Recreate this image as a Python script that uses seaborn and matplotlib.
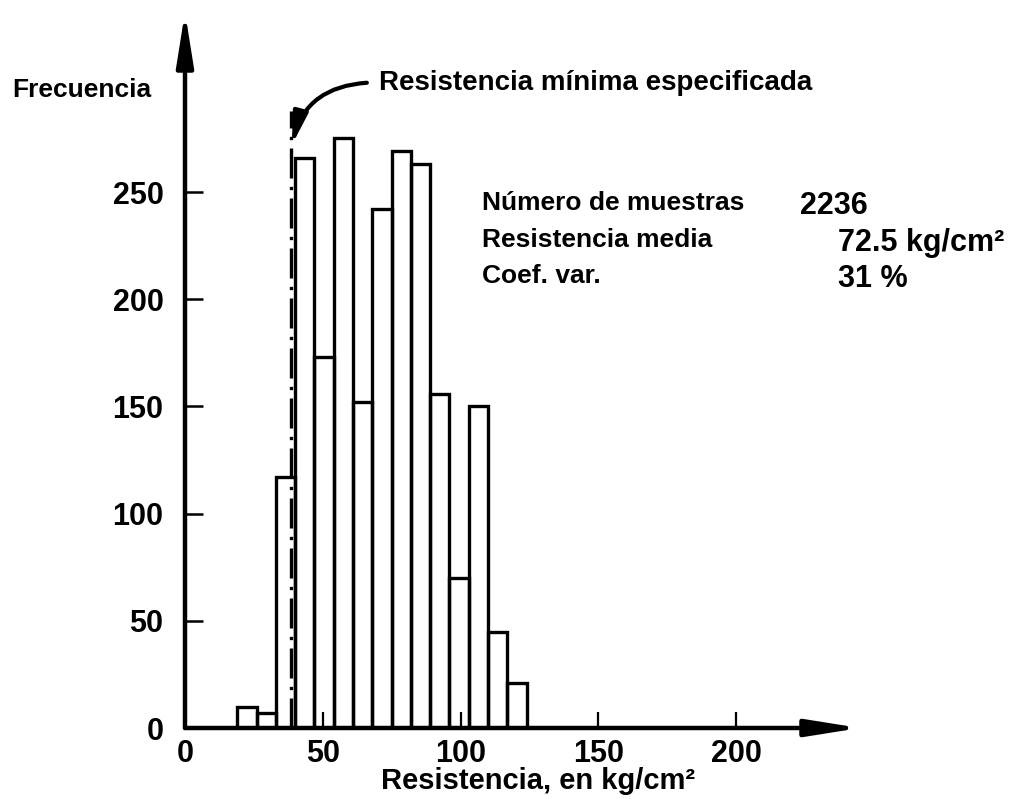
import numpy as np
import pandas as pd
import matplotlib
matplotlib.use("Agg")
import matplotlib.pyplot as plt
import seaborn as sns

# Histogram of compressive strength (kg/cm2), class width 7 kg/cm2
bin_edges = [19, 26, 33, 40, 47, 54, 61, 68, 75, 82, 89, 96, 103, 110, 117, 124]
frequencies = [10, 7, 117, 266, 173, 275, 152, 242, 269, 263, 156, 70, 150, 45, 21]

x_ticks = [0, 50, 100, 150, 200]
y_ticks = [0, 50, 100, 150, 200, 250]
min_specified = 38.5

stat_names = ["Número de muestras", "Resistencia media", "Coef. var."]
stat_values = ["2236", "72.5 kg/cm²", "31 %"]

sns.set_theme(style="white")
plt.rcParams["font.family"] = ["Liberation Sans", "DejaVu Sans"]
plt.rcParams["font.weight"] = "bold"

W, H = 1025, 799
fig = plt.figure(figsize=(W / 100, H / 100), dpi=100)
fig.patch.set_facecolor("white")


def fx(px):
    return px / W


def fy(py):
    return 1 - py / H


ax = fig.add_axes([fx(185), fy(728), (860 - 185) / W, (728 - 12) / H])
ax.set_facecolor("white")

centers = [(a + b) / 2 for a, b in zip(bin_edges[:-1], bin_edges[1:])]
df = pd.DataFrame({"resistencia": centers, "frecuencia": frequencies})
sns.histplot(data=df, x="resistencia", weights="frecuencia", bins=bin_edges,
             fill=False, element="bars", color="black", linewidth=2.4, ax=ax)

ax.set_xlim(0, 245)
ax.set_ylim(0, 334)
ax.set_xlabel("")
ax.set_ylabel("")
for sp in ax.spines.values():
    sp.set_visible(False)

# Axes drawn as arrows
arrow_kw = dict(arrowstyle="-|>,head_length=2.0,head_width=0.32", lw=3.2,
                color="black", mutation_scale=16, shrinkA=0, shrinkB=0)
ax.annotate("", xy=(245, 0), xytext=(0, 0), xycoords="data",
            arrowprops=arrow_kw, annotation_clip=False)
ax.annotate("", xy=(0, 334), xytext=(0, 0), xycoords="data",
            arrowprops=arrow_kw, annotation_clip=False)

ax.set_xticks(x_ticks)
ax.set_yticks(y_ticks)
ax.set_xticklabels([str(v) for v in x_ticks])
ax.set_yticklabels([str(v) for v in y_ticks])
ax.tick_params(axis="y", direction="in", length=13, width=1.8, color="black",
               pad=15.5, labelsize=22, left=True)
ax.tick_params(axis="x", direction="in", length=11.5, width=1.6, color="black",
               pad=8, labelsize=22, bottom=True)
for lab in ax.get_xticklabels() + ax.get_yticklabels():
    lab.set_fontweight("bold")
    lab.set_color("black")

# Minimum specified strength line
ax.plot([min_specified, min_specified], [0, 288], color="black", lw=2.4,
        linestyle=(0, (9, 2.5, 1, 2.5)), clip_on=False)

ax.annotate("", xy=(min_specified + 0.3, 272), xytext=(66, 301),
            xycoords="data",
            arrowprops=dict(arrowstyle="-|>,head_length=0.95,head_width=0.22",
                            lw=3, color="black", mutation_scale=20,
                            shrinkA=0, shrinkB=0,
                            connectionstyle="arc3,rad=0.36"),
            annotation_clip=False)
ax.text(70.5, 301, "Resistencia mínima especificada", fontsize=20,
        fontweight="bold", ha="left", va="center", color="black", clip_on=False)

# Axis titles
fig.text(fx(12), fy(90), "Frecuencia", fontsize=19, fontweight="bold",
         ha="left", va="center", color="black")
fig.text(fx(538), fy(781), "Resistencia, en kg/cm²", fontsize=21,
         fontweight="bold", ha="center", va="center", color="black")

# Summary statistics
rows_y = [203, 240, 276]
value_x = [800, 838, 838]
for name, val, yy, vx in zip(stat_names, stat_values, rows_y, value_x):
    fig.text(fx(482), fy(yy), name, fontsize=19, fontweight="bold",
             ha="left", va="center", color="black")
    fig.text(fx(vx), fy(yy + 3), val, fontsize=22, fontweight="bold",
             ha="left", va="center", color="black")

fig.savefig("out.png", dpi=100, facecolor="white")
